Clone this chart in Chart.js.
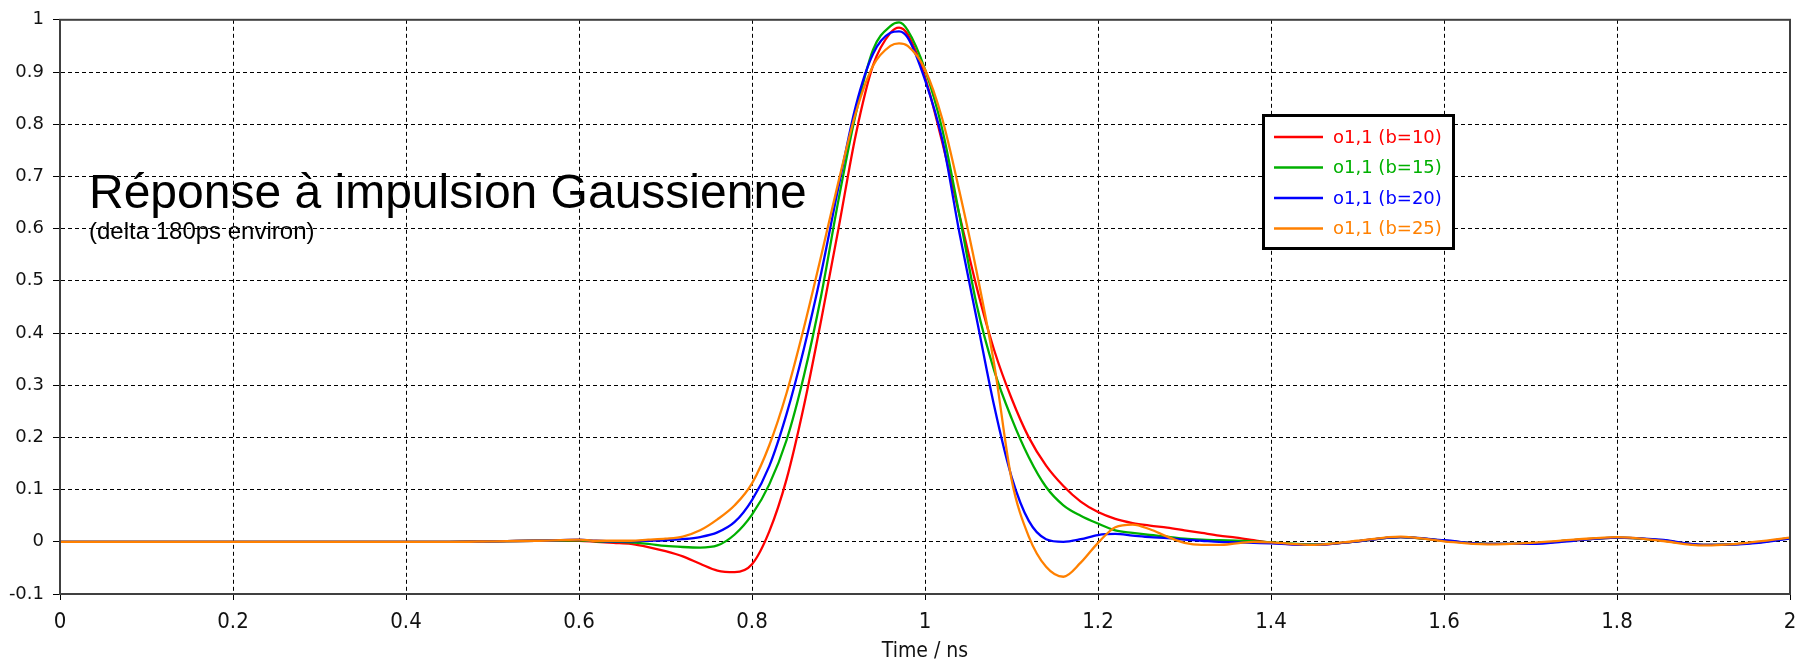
<!DOCTYPE html>
<html>
<head>
<meta charset="utf-8">
<script src="https://cdn.jsdelivr.net/npm/chart.js@4"></script>
<style>
html, body { margin: 0; padding: 0; background: #fff; }
canvas { display: block; }
</style>
</head>
<body>
<canvas id="pulseChart" width="1798" height="666"></canvas>
<script>
// time axis in ns (shared by all four curves)
const time = [0, 0.2, 0.4, 0.45, 0.5, 0.55,
    0.6, 0.62, 0.64, 0.66, 0.68, 0.7, 0.72, 0.74, 0.76, 0.78,
    0.8, 0.82, 0.84, 0.86, 0.88, 0.9, 0.92, 0.94, 0.96, 0.97, 0.98,
    1, 1.02, 1.04, 1.06, 1.08, 1.1, 1.12, 1.14, 1.16, 1.18,
    1.2, 1.22, 1.24, 1.26, 1.28, 1.3, 1.32, 1.34, 1.36, 1.38, 1.4,
    1.45, 1.5, 1.55, 1.6, 1.65, 1.7, 1.75, 1.8, 1.85, 1.9, 1.95, 2]

const b10 = [0, 0, 0, 0, 0.001, 0.002,
    0.002, 0, -0.002, -0.004, -0.01, -0.018, -0.028, -0.042, -0.055, -0.058,
    -0.043, 0.02, 0.12, 0.26, 0.425, 0.6, 0.78, 0.913, 0.975, 0.985, 0.972,
    0.89, 0.765, 0.625, 0.486, 0.367, 0.275, 0.2, 0.146, 0.107, 0.077,
    0.057, 0.044, 0.036, 0.031, 0.027, 0.022, 0.017, 0.012, 0.008, 0.003, -0.002,
    -0.006, 0.001, 0.009, 0.002, -0.004, -0.003, 0.003, 0.008, 0.003, -0.006, -0.003, 0.007]

const b15 = [0, 0, 0, 0, 0.001, 0.002,
    0.003, 0.001, 0, -0.001, -0.004, -0.008, -0.01, -0.011, -0.007, 0.014,
    0.052, 0.11, 0.195, 0.318, 0.472, 0.655, 0.82, 0.943, 0.988, 0.995, 0.98,
    0.905, 0.79, 0.624, 0.452, 0.328, 0.237, 0.162, 0.105, 0.07, 0.05,
    0.035, 0.022, 0.017, 0.013, 0.01, 0.006, 0.004, 0.003, 0.002, 0.001, -0.001,
    -0.005, 0.001, 0.009, 0.002, -0.004, -0.003, 0.003, 0.008, 0.003, -0.006, -0.003, 0.007]

const b20 = [0, 0, 0, 0, 0.001, 0.002,
    0.004, 0.002, 0.001, 0.001, 0.002, 0.003, 0.005, 0.009, 0.018, 0.038,
    0.08, 0.145, 0.245, 0.37, 0.515, 0.68, 0.835, 0.935, 0.975, 0.978, 0.966,
    0.885, 0.77, 0.59, 0.425, 0.26, 0.125, 0.04, 0.005, 0, 0.005,
    0.013, 0.015, 0.012, 0.009, 0.007, 0.004, 0.002, 0, -0.001, -0.002, -0.003,
    -0.006, 0.001, 0.009, 0.003, -0.004, -0.004, 0.002, 0.008, 0.004, -0.006, -0.004, 0.006]

const b25 = [0, 0, 0, 0, 0.001, 0.002,
    0.004, 0.002, 0.002, 0.002, 0.004, 0.006, 0.01, 0.022, 0.043, 0.07,
    0.112, 0.185, 0.285, 0.41, 0.548, 0.69, 0.822, 0.912, 0.95, 0.955, 0.95,
    0.905, 0.81, 0.67, 0.515, 0.34, 0.12, 0.01, -0.048, -0.067, -0.04,
    -0.002, 0.028, 0.033, 0.024, 0.01, -0.002, -0.006, -0.006, -0.003, 0, -0.001,
    -0.006, 0.002, 0.01, 0.001, -0.005, -0.002, 0.004, 0.009, 0.002, -0.007, -0.002, 0.008]

const seriesNames = ["o1,1 (b=10)", "o1,1 (b=15)", "o1,1 (b=20)", "o1,1 (b=25)"]
const seriesColors = ["#ff0000", "#00b000", "#0000ff", "#ff8000"]
const xTicks = [0, 0.2, 0.4, 0.6, 0.8, 1, 1.2, 1.4, 1.6, 1.8, 2]
const yTicks = [-0.1, 0, 0.1, 0.2, 0.3, 0.4, 0.5, 0.6, 0.7, 0.8, 0.9, 1]

const titleText = "Réponse à impulsion Gaussienne"
const subtitleText = "(delta 180ps environ)"
const xTitle = "Time / ns"

function points(values) {
    return time.map((t, i) => ({ x: t, y: values[i] }))
}

// solid frame around the plot (top and right sides too)
const frame = {
    id: "frame",
    afterDatasetsDraw(chart) {
        const a = chart.chartArea
        const ctx = chart.ctx
        ctx.save()
        ctx.strokeStyle = "#404040"
        ctx.lineWidth = 2
        ctx.strokeRect(a.left, a.top, a.right - a.left, a.bottom - a.top)
        ctx.restore()
    }
}

// big caption written inside the plot
const caption = {
    id: "caption",
    afterDraw(chart) {
        const ctx = chart.ctx
        ctx.save()
        ctx.fillStyle = "#000"
        ctx.textBaseline = "alphabetic"
        ctx.font = "48px 'Liberation Sans'"
        ctx.fillText(titleText, 89, 208)
        ctx.font = "24px 'Liberation Sans'"
        ctx.fillText(subtitleText, 89, 239)
        ctx.restore()
    }
}

// boxed legend with coloured labels
const legendBox = {
    id: "legendBox",
    afterDraw(chart) {
        const ctx = chart.ctx
        ctx.save()
        ctx.fillStyle = "#fff"
        ctx.fillRect(1263, 115, 191, 134)
        ctx.strokeStyle = "#000"
        ctx.lineWidth = 3
        ctx.strokeRect(1263.5, 115.5, 190, 133)
        ctx.font = "18px 'DejaVu Sans'"
        ctx.textBaseline = "middle"
        chart.data.datasets.forEach((ds, i) => {
            const y = 137 + i * 30.5
            ctx.strokeStyle = ds.borderColor
            ctx.lineWidth = 2.5
            ctx.beginPath()
            ctx.moveTo(1274, y)
            ctx.lineTo(1323, y)
            ctx.stroke()
            ctx.fillStyle = ds.borderColor
            ctx.fillText(ds.label, 1333, y + 1)
        })
        ctx.restore()
    }
}

const seriesValues = [b10, b15, b20, b25]

new Chart(document.getElementById("pulseChart"), {
    type: "line",
    data: {
        datasets: seriesValues.map((vals, i) => ({
            label: seriesNames[i],
            data: points(vals),
            borderColor: seriesColors[i],
            borderWidth: 2.3,
            pointRadius: 0,
            fill: false,
            cubicInterpolationMode: "monotone",
            order: 3 - i
        }))
    },
    options: {
        responsive: false,
        animation: false,
        events: [],
        layout: { padding: { top: 15, right: 8, left: 0, bottom: 0 } },
        plugins: {
            legend: { display: false },
            tooltip: { enabled: false }
        },
        scales: {
            x: {
                type: "linear",
                min: 0,
                max: 2,
                afterBuildTicks: s => { s.ticks = xTicks.map(v => ({ value: v })) },
                afterFit: s => {
                    s.height = 72
                    s.paddingLeft = 0
                    s.paddingRight = 0
                },
                ticks: {
                    callback: v => String(v),
                    color: "#111",
                    padding: 9,
                    maxRotation: 0,
                    font: { family: "'Liberation Sans Narrow', 'DejaVu Sans Condensed'", size: 22 }
                },
                grid: { color: "#000", lineWidth: 1, tickLength: 6, tickColor: "#000", tickBorderDash: [] },
                border: { display: true, color: "#404040", width: 2, dash: [4, 3] },
                title: {
                    display: true,
                    text: xTitle,
                    color: "#111",
                    padding: { top: 0, bottom: 2 },
                    font: { family: "'Liberation Sans Narrow', 'DejaVu Sans Condensed'", size: 21 }
                }
            },
            y: {
                min: -0.1,
                max: 1,
                afterBuildTicks: s => { s.ticks = yTicks.map(v => ({ value: v })) },
                afterFit: s => { s.width = 60 },
                ticks: {
                    callback: v => String(v),
                    color: "#111",
                    padding: 9,
                    font: { family: "'DejaVu Sans'", size: 18 }
                },
                grid: { color: "#000", lineWidth: 1, tickLength: 7, tickColor: "#000", tickBorderDash: [] },
                border: { display: true, color: "#404040", width: 2, dash: [4, 3] }
            }
        }
    },
    plugins: [frame, caption, legendBox]
})
</script>
</body>
</html>
